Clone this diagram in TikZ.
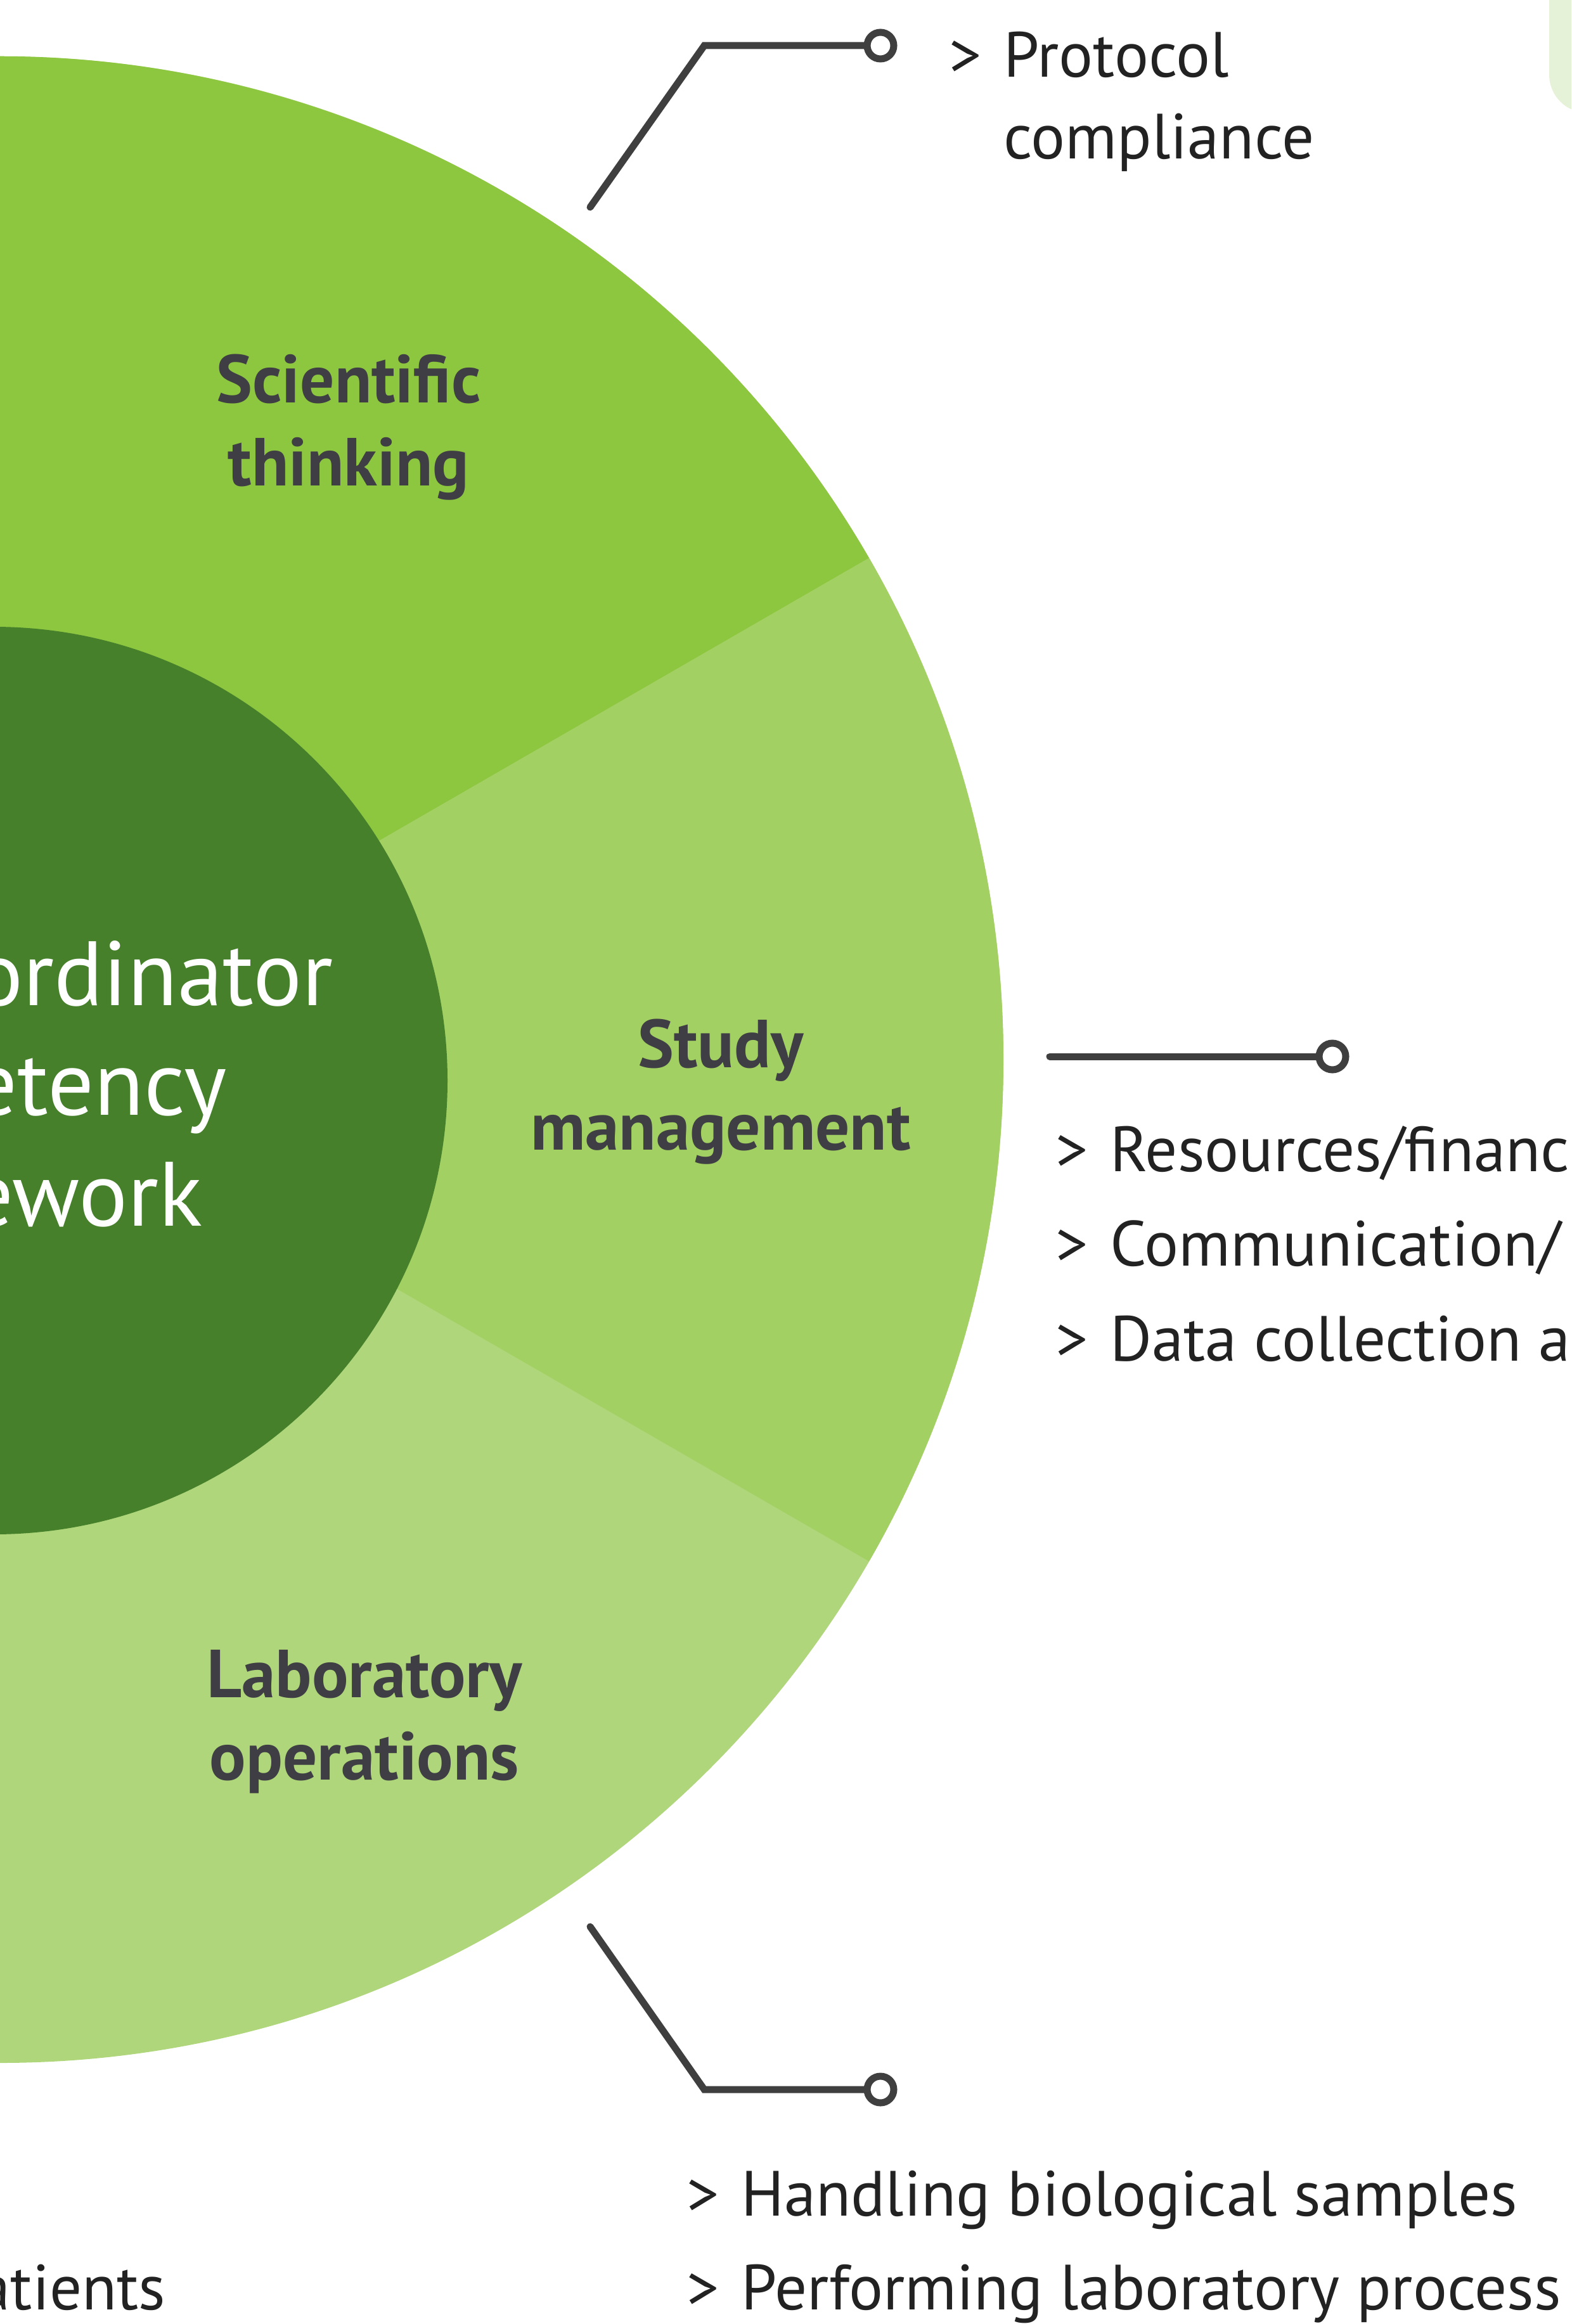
\documentclass[tikz,border=0pt]{standalone}
\usepackage{fontspec}
\setmainfont{PT Sans}

\definecolor{sciGreen}{HTML}{8DC63F}
\definecolor{studyGreen}{HTML}{A3D063}
\definecolor{labGreen}{HTML}{AFD67A}
\definecolor{coreGreen}{HTML}{46802B}
\definecolor{paleGreen}{HTML}{E6F2D8}
\definecolor{labelGray}{HTML}{3E3E44}
\definecolor{lineGray}{HTML}{3F3F3F}
\definecolor{itemBlack}{HTML}{222222}

\newcommand{\chev}{\makebox[0.86cm][l]{>}}

\tikzset{
  segment label/.style={text=labelGray, font=\fontsize{30.5}{37}\selectfont\bfseries, anchor=base, inner sep=0pt},
  core label/.style={text=white, font=\fontsize{41}{49}\selectfont, anchor=base east, inner sep=0pt},
  item/.style={text=itemBlack, font=\fontsize{28.7}{36.5}\selectfont, anchor=base west, inner sep=0pt},
  leader/.style={draw=lineGray, line width=0.11cm, line cap=round},
  pin end/.style={circle, draw=lineGray, line width=0.11cm, fill=white, minimum size=0.42cm, inner sep=0pt}
}

\begin{document}
\begin{tikzpicture}
\useasboundingbox (0,0) rectangle (24.79,-36.67);
\clip (0,0) rectangle (24.79,-36.67);

\coordinate (hub) at (0,-16.72);
\fill[labGreen] (hub) circle (15.83);
\fill[sciGreen] (hub) -- ++(30:15.83) arc[start angle=30, end angle=150, radius=15.83] -- cycle;
\fill[studyGreen] (hub) -- ++(-30:15.83) arc[start angle=-30, end angle=30, radius=15.83] -- cycle;
\fill[coreGreen] (-0.10,-17.05) circle (7.16);
\fill[paleGreen, rounded corners=0.6cm] (24.44,1) -- (24.44,-1.78) -- (26,-1.78) -- (26,1) -- cycle;

\node[core label] (core-a) at (5.26,-15.86) {ordinator};
\node[core label] (core-b) at (3.58,-17.59) {etency};
\node[core label] (core-c) at (3.20,-19.34) {ework};

\node[segment label] (sci) at (5.50,-6.36) {\begin{tabular}[t]{@{}c@{}}Scientific\\thinking\end{tabular}};
\node[segment label] (mgmt) at (11.37,-16.84) {\begin{tabular}[t]{@{}c@{}}Study\\management\end{tabular}};
\node[segment label] (lab) at (5.75,-26.78) {\begin{tabular}[t]{@{}c@{}}Laboratory\\operations\end{tabular}};

\coordinate (sci-root) at (9.31,-3.27);
\coordinate (sci-bend) at (11.11,-0.72);
\node[pin end] (sci-pin) at (13.89,-0.72) {};
\draw[leader] (sci-root) -- (sci-bend) -- (sci-pin);

\coordinate (mgmt-root) at (16.56,-16.67);
\node[pin end] (mgmt-pin) at (21.02,-16.67) {};
\draw[leader] (mgmt-root) -- (mgmt-pin);

\coordinate (lab-root) at (9.31,-30.40);
\coordinate (lab-bend) at (11.11,-32.97);
\node[pin end] (lab-pin) at (13.89,-32.97) {};
\draw[leader] (lab-root) -- (lab-bend) -- (lab-pin);

\node[item] (sci-1) at (14.97,-1.22) {\begin{tabular}[t]{@{}l@{}}\chev Protocol\\\hspace{0.86cm}compliance\end{tabular}};

\foreach \txt [count=\i] in {Resources/financ, Communication/, Data collection a}
    \node[item] (mgmt-\i) at (16.65,{-18.48-1.495*(\i-1)}) {\chev\txt};

\node[item] (lab-1) at (10.83,-34.96) {\chev Handling biological samples};
\node[item] (lab-2) at (10.83,-36.44) {\chev Performing laboratory process};
\node[item, anchor=base east] (patients) at (2.62,-36.44) {atients};
\end{tikzpicture}
\end{document}
